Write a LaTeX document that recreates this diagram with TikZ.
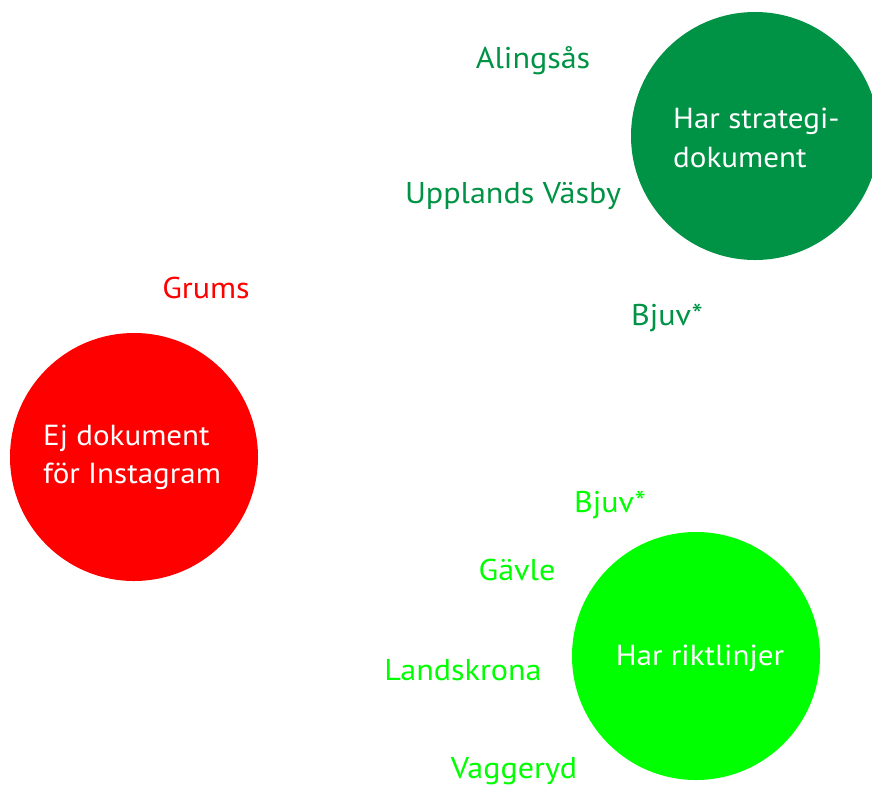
\documentclass[tikz,border=0pt]{standalone}
\usepackage{fontspec}
\setmainfont[FakeStretch=1.07]{PT Sans}
\usepackage{tikz}
\usetikzlibrary{positioning}
\definecolor{strategigreen}{HTML}{009245}
\definecolor{riktgreen}{HTML}{00FF00}
\definecolor{ejred}{HTML}{FF0000}

\begin{document}
\begin{tikzpicture}[x=1pt, y=1pt,
    group/.style={circle, minimum size=248pt, inner sep=0pt},
    grouptext/.style={text=white, font=\fontsize{29}{38}\selectfont, align=left, anchor=base west},
    town/.style={font=\fontsize{30}{34}\selectfont, anchor=base, inner sep=0pt}
]
\useasboundingbox (0,0) rectangle (872,-785);

% Circles
\node[group, fill=strategigreen] (strategi) at (755,-136) {};
\node[group, fill=ejred] (ej) at (134,-457) {};
\node[group, fill=riktgreen] (rikt) at (696,-656) {};

% Circle texts
\node[grouptext, inner sep=0pt] (strategitxt) at (673,-128) {Har strategi-};
\node[grouptext, inner sep=0pt] (strategitxtb) at (673,-167) {dokument};
\node[grouptext, inner sep=0pt] (ejtxt) at (43,-445) {Ej dokument};
\node[grouptext, inner sep=0pt] (ejtxtb) at (43,-483) {för Instagram};
\node[grouptext, inner sep=0pt, anchor=base] (rikttxt) at (700,-665) {Har riktlinjer};

% Towns - strategidokument
\node[town, text=strategigreen] (alingsas) at (533,-68) {Alingsås};
\node[town, text=strategigreen] (upplands) at (513,-203) {Upplands Väsby};
\node[town, text=strategigreen] (bjuva) at (667,-325) {Bjuv*};

% Towns - ej dokument
\node[town, text=ejred] (grums) at (206,-298) {Grums};

% Towns - riktlinjer
\node[town, text=riktgreen] (bjuvb) at (610,-512) {Bjuv*};
\node[town, text=riktgreen] (gavle) at (517,-580) {Gävle};
\node[town, text=riktgreen] (landskrona) at (463,-680) {Landskrona};
\node[town, text=riktgreen] (vaggeryd) at (514,-778) {Vaggeryd};

\end{tikzpicture}
\end{document}
